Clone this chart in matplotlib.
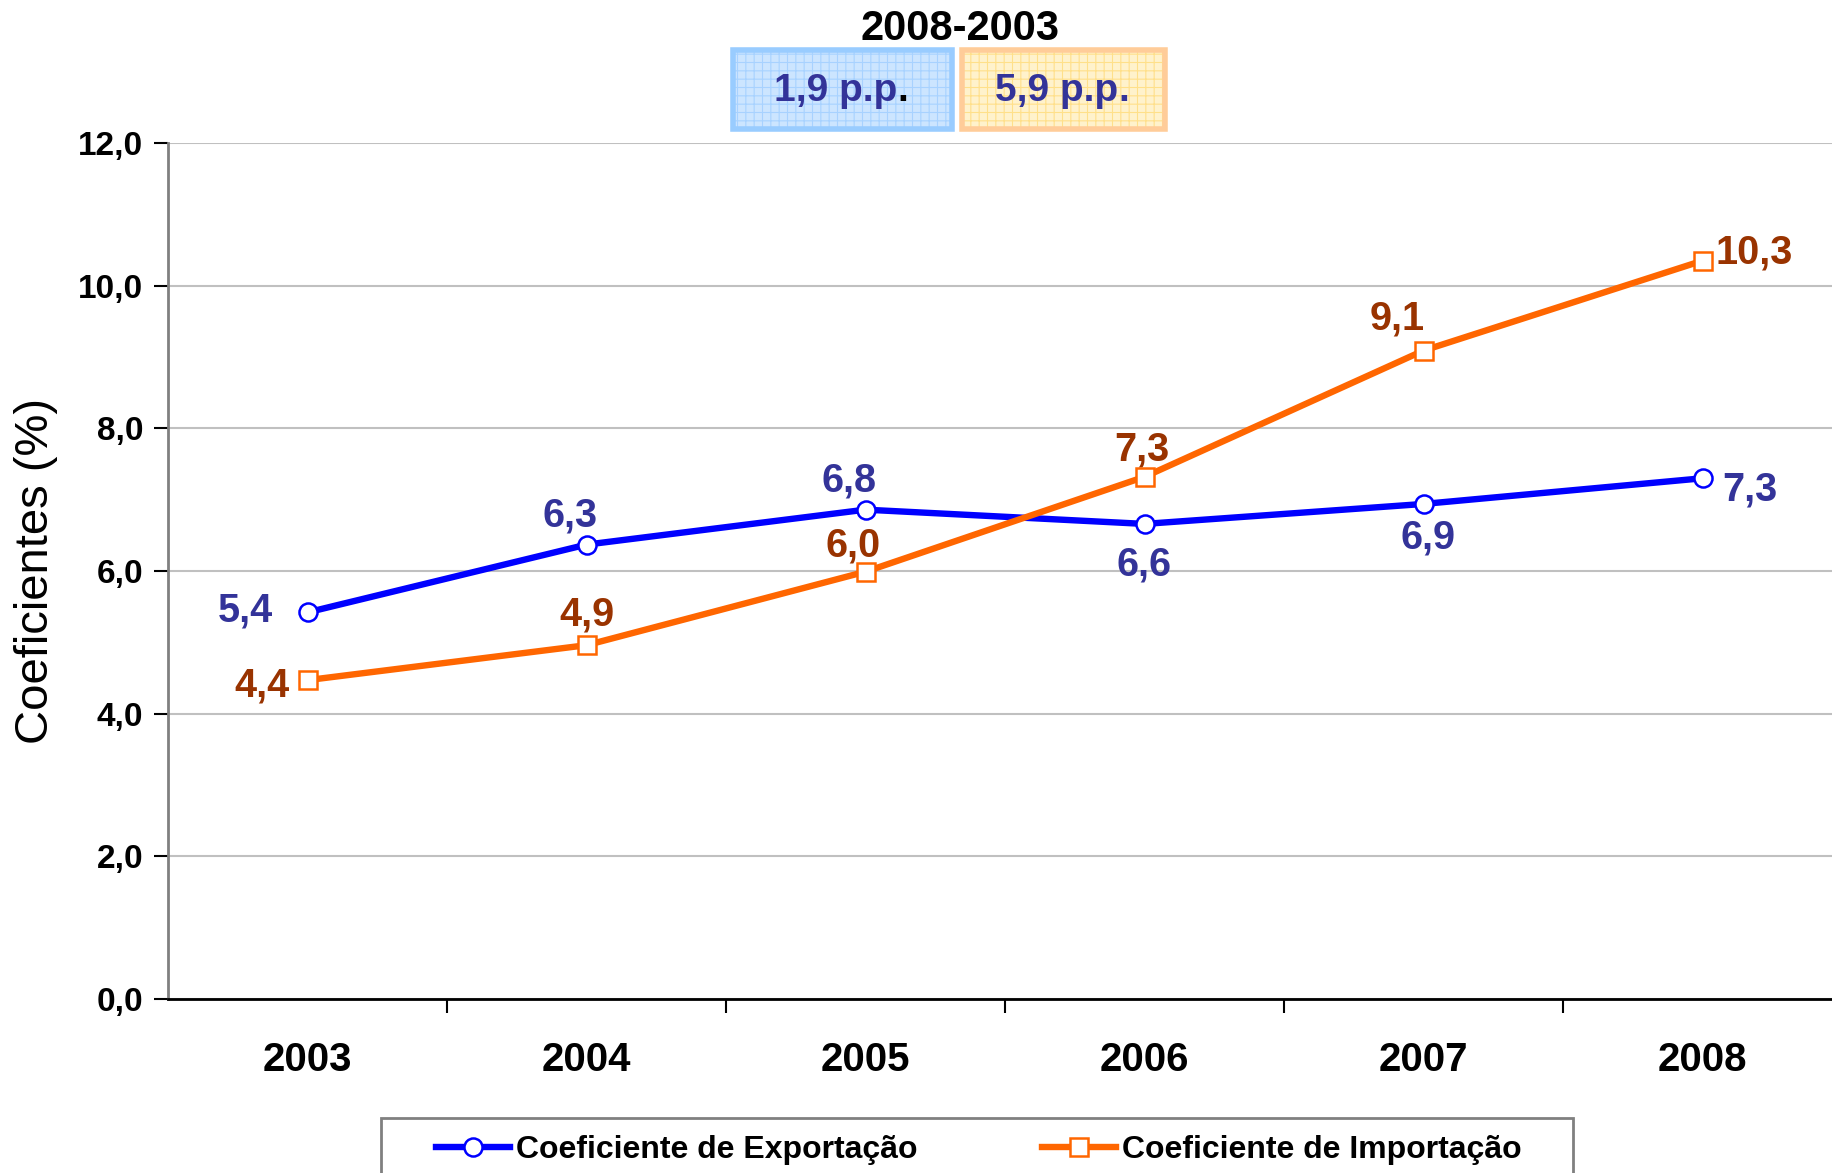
import matplotlib as mpl
mpl.use('Agg')
import matplotlib.pyplot as plt
from matplotlib.patches import Rectangle
from matplotlib.text import Annotation
import numpy as np

plt.rcParams['font.family'] = ['Liberation Sans', 'DejaVu Sans']
plt.rcParams['hatch.linewidth'] = 0.8

anos = ['2003', '2004', '2005', '2006', '2007', '2008']
exportacao = [5.42, 6.37, 6.86, 6.66, 6.94, 7.30]
importacao = [4.47, 4.96, 5.99, 7.32, 9.09, 10.35]
rot_exp = ['5,4', '6,3', '6,8', '6,6', '6,9', '7,3']
rot_imp = ['4,4', '4,9', '6,0', '7,3', '9,1', '10,3']
# label offsets in points
off_exp = [(-45, 1), (-12, 21), (-12, 21), (0, -29), (3, -24), (34, -8)]
off_imp = [(-33, -4), (0, 22), (-9, 19), (-2, 20), (-19, 23), (37, 6)]
yticks = [0, 2, 4, 6, 8, 10, 12]
ytick_lab = ['0,0', '2,0', '4,0', '6,0', '8,0', '10,0', '12,0']

c_exp = '#0000FF'
c_imp = '#FF6600'
c_lab_exp = '#333399'
c_lab_imp = '#993300'

W, H = 1832., 1173.
fig = plt.figure(figsize=[18.32, 11.73], dpi=100)
ax = fig.add_axes([168/W, 1-999/H, (W-168)/W, (999-143)/H])

x = np.arange(len(anos))
ax.plot(x, exportacao, '-', c=c_exp, lw=4.6, marker='o', ms=13, mfc='white', mec=c_exp, mew=1.8,
        label='Coeficiente de Exportação', zorder=4)
ax.plot(x, importacao, '-', c=c_imp, lw=4.6, marker='s', ms=13, mfc='white', mec=c_imp, mew=1.8,
        label='Coeficiente de Importação', zorder=4)

for i in range(len(anos)):
    ax.annotate(rot_exp[i], (x[i], exportacao[i]), xytext=off_exp[i], textcoords='offset points',
                ha='center', va='center', fontsize=28.5, fontweight='bold', color=c_lab_exp)
    ax.annotate(rot_imp[i], (x[i], importacao[i]), xytext=off_imp[i], textcoords='offset points',
                ha='center', va='center', fontsize=28.5, fontweight='bold', color=c_lab_imp)

ax.set_xlim(-0.5, -0.5 + (W-168)/279.)
ax.set_ylim(0, 12)
ax.set_yticks(yticks)
ax.set_yticklabels(ytick_lab, fontsize=24, fontweight='bold')
ax.set_xticks(x)
ax.set_xticklabels(anos, fontsize=29, fontweight='bold')
ax.tick_params(axis='x', length=0, pad=30)
ax.set_xticks(np.arange(0.5, 5.5, 1), minor=True)
ax.tick_params(axis='x', which='minor', length=10, width=1.5, color='black')
ax.tick_params(axis='y', length=10, width=1.5, pad=8)
ax.yaxis.grid(True, color='#C0C0C0', lw=1.5)
ax.set_axisbelow(True)
for s in ['top', 'right']:
    ax.spines[s].set_visible(False)
ax.spines['left'].set_color('#808080')
ax.spines['left'].set_linewidth(2)
ax.spines['bottom'].set_linewidth(2)
ax.spines['bottom'].set_zorder(5)
ax.set_ylabel('Coeficientes (%)', fontsize=34, labelpad=14)

# header boxes
fig.text(960/W, 1-29/H, '2008-2003', ha='center', va='center', fontsize=30, fontweight='bold')
boxes = [(733, 952, '#CCE5FF', '#A8D2FF', '#99CCFF', '1,9 p.p', 'black', 836),
         (962, 1165, '#FFF2CC', '#FFE08A', '#FFCC99', '5,9 p.p', c_lab_exp, 1057)]
for x0, x1, fc, hc, ec, txt, dotc, cx in boxes:
    r = Rectangle((x0/W, 1-129/H), (x1-x0)/W, 79/H, transform=fig.transFigure,
                  facecolor=fc, edgecolor=hc, hatch='++', lw=0)
    fig.add_artist(r)
    b = Rectangle((x0/W, 1-129/H), (x1-x0)/W, 79/H, transform=fig.transFigure,
                  fill=False, edgecolor=ec, lw=4)
    fig.add_artist(b)
    t = fig.text(cx/W, 1-91/H, txt, ha='center', va='center', fontsize=28,
                 fontweight='bold', color=c_lab_exp)
    fig.add_artist(Annotation('.', xy=(1, 0), xycoords=t, ha='left', va='bottom',
                              fontsize=28, fontweight='bold', color=dotc))

# legend
fig.add_artist(Rectangle((381/W, -0.02), (1573-381)/W, 1-1118/H + 0.02, transform=fig.transFigure,
                         facecolor='white', edgecolor='#808080', lw=2))
leg = fig.legend(loc='center', bbox_to_anchor=(979/W, 1-1150/H), ncol=2,
                 prop={'size': 23, 'weight': 'bold'}, handlelength=2.3, handletextpad=0.2,
                 columnspacing=3.9, borderpad=0, borderaxespad=0, frameon=False)

plt.savefig('out.png', dpi=100)
plt.close(fig)
